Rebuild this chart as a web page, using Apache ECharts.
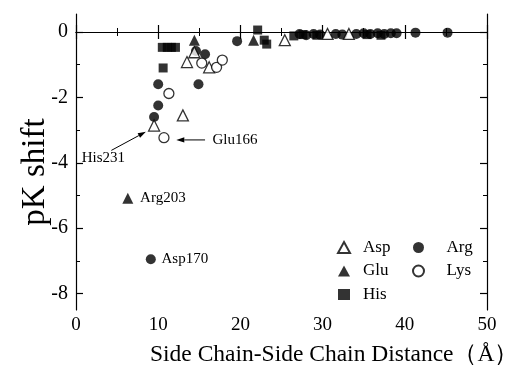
<!DOCTYPE html>
<html>
<head>
<meta charset="utf-8">
<script src="https://cdn.jsdelivr.net/npm/echarts@6/dist/echarts.min.js"></script>
<style>
  html, body { margin: 0; padding: 0; background: #fff; }
  #chart { width: 521px; height: 373px; }
</style>
</head>
<body>
<div id="chart"></div>
<script>
// values: [distance (Å), pK shift]
const aspData = [[9.5, -2.86], [13.0, -2.55], [13.5, -0.92], [14.4, -0.62], [16.2, -1.08], [25.4, -0.25], [30.6, -0.06], [33.2, -0.06]]
const gluData = [[6.3, -5.08], [14.4, -0.25], [21.6, -0.25]]
const hisData = [[10.5, -0.47], [11.1, -0.47], [11.6, -0.47], [12.1, -0.47], [10.6, -1.1], [22.1, 0.06], [22.9, -0.25], [23.2, -0.37], [26.5, -0.12], [27.6, -0.08], [29.3, -0.1], [35.4, -0.08], [37.1, -0.1]]
const argData = [[9.1, -6.95], [9.5, -2.6], [10.0, -2.25], [10.0, -1.6], [14.9, -1.6], [14.6, -0.58], [15.7, -0.68], [19.6, -0.28], [27.2, -0.06], [28.0, -0.1], [28.9, -0.06], [29.7, -0.08], [31.6, -0.06], [32.4, -0.08], [34.1, -0.06], [35.0, -0.04], [35.8, -0.06], [36.7, -0.04], [37.5, -0.06], [38.3, -0.04], [39.0, -0.04], [41.3, -0.02], [45.2, -0.02]]
const lysData = [[10.7, -3.23], [11.3, -1.88], [15.3, -0.95], [17.1, -1.08], [17.8, -0.86]]

const yMajor = [-8, -6, -4, -2, 0]
const yMinor = [-7, -5, -3, -1]

// annotations: text, where the text sits, arrow tail and head (data coords)
const noteTexts = ['His231', 'Glu166', 'Arg203', 'Asp170']
const noteAt = [[0.7, -3.85], [16.6, -3.3], [7.8, -5.08], [10.4, -6.95]]
const arrowFrom = [[4.3, -3.62], [15.7, -3.3]]
const arrowTo = [[8.5, -3.05], [12.2, -3.3]]

const serif = '"Liberation Serif", "DejaVu Serif", serif'
const chart = echarts.init(document.getElementById('chart'))

const openStyle = { color: '#fff', borderColor: '#000', borderWidth: 1.3 }
const fillStyle = { color: '#000', borderColor: '#000', borderWidth: 0 }

const xBase = {
  type: 'value', min: 0, max: 50, interval: 10,
  axisLine: { lineStyle: { color: '#000', width: 1.2 } },
  axisTick: { inside: true, length: 7, lineStyle: { color: '#000', width: 1.2 } },
  minorTick: { show: true, splitNumber: 2, length: 4, lineStyle: { color: '#000', width: 1 } },
  splitLine: { show: false },
}
const yBase = {
  type: 'value', min: -8.5, max: 0.55,
  axisLine: { show: true, lineStyle: { color: '#000', width: 1.2 } },
  splitLine: { show: false },
  axisLabel: { show: false },
}
const legendBase = {
  orient: 'vertical', top: 234, itemWidth: 12, itemHeight: 11, itemGap: 6.5,
  textStyle: { color: '#000', fontFamily: serif, fontSize: 17 },
}

const option = {
  animation: false,
  grid: { left: 76, right: 34, top: 14, bottom: 63 },
  xAxis: [
    { ...xBase, position: 'bottom',
      axisLabel: { color: '#000', fontFamily: serif, fontSize: 19, margin: 6 } },
    { ...xBase, position: 'top', axisLabel: { show: false } },
  ],
  yAxis: [
    { ...yBase, position: 'left',
      axisTick: { inside: true, length: 7, customValues: yMajor, lineStyle: { color: '#000', width: 1.2 } },
      axisLabel: { show: true, customValues: yMajor, color: '#000', fontFamily: serif, fontSize: 20, margin: 8 } },
    { ...yBase, position: 'left', axisLine: { show: false },
      axisTick: { inside: true, length: 4, customValues: yMinor, lineStyle: { color: '#000', width: 1 } } },
    { ...yBase, position: 'right',
      axisTick: { inside: true, length: 7, customValues: yMajor, lineStyle: { color: '#000', width: 1.2 } } },
    { ...yBase, position: 'right', axisLine: { show: false },
      axisTick: { inside: true, length: 4, customValues: yMinor, lineStyle: { color: '#000', width: 1 } } },
  ],
  legend: [
    { ...legendBase, data: ['Asp', 'Glu', 'His'], left: 332,
      textStyle: { ...legendBase.textStyle, padding: [0, 0, 0, 8] } },
    { ...legendBase, data: ['Arg', 'Lys'], left: 407,
      textStyle: { ...legendBase.textStyle, padding: [0, 0, 0, 17] } },
  ],
  series: [
    { name: 'Asp', type: 'scatter', data: aspData, symbol: 'triangle', symbolSize: 11, itemStyle: openStyle, z: 3 },
    { name: 'Glu', type: 'scatter', data: gluData, symbol: 'triangle', symbolSize: 11, itemStyle: fillStyle },
    { name: 'His', type: 'scatter', data: hisData, symbol: 'rect', symbolSize: 9, itemStyle: fillStyle },
    { name: 'Arg', type: 'scatter', data: argData, symbol: 'circle', symbolSize: 10, itemStyle: fillStyle },
    { name: 'Lys', type: 'scatter', data: lysData, symbol: 'circle', symbolSize: 10, itemStyle: openStyle, z: 3 },
  ],
}
chart.setOption(option)

// annotations and axis titles placed through the chart's own scales
const px = (p) => chart.convertToPixel({ xAxisIndex: 0, yAxisIndex: 0 }, p)
const arrow = (from, to) => {
  const a = px(from), b = px(to)
  const dx = b[0] - a[0], dy = b[1] - a[1], L = Math.hypot(dx, dy)
  const ux = dx / L, uy = dy / L, hl = 8, hw = 2.6
  const bx = b[0] - ux * hl, by = b[1] - uy * hl
  return [
    { type: 'line', shape: { x1: a[0], y1: a[1], x2: bx, y2: by }, style: { stroke: '#000', lineWidth: 1 } },
    { type: 'polygon', shape: { points: [b, [bx - uy * hw, by + ux * hw], [bx + uy * hw, by - ux * hw]] }, style: { fill: '#000' } },
  ]
}
const graphics = []
noteTexts.forEach((t, i) => {
  const p = px(noteAt[i])
  graphics.push({ type: 'text', x: p[0], y: p[1],
    style: { text: t, fill: '#000', font: '15px ' + serif, textAlign: 'left', textVerticalAlign: 'middle' } })
})
arrowFrom.forEach((f, i) => graphics.push(...arrow(f, arrowTo[i])))
graphics.push({ type: 'text', x: 150, y: 355,
  style: { text: 'Side Chain-Side Chain Distance（Å）', fill: '#000', font: '23.5px ' + serif, textAlign: 'left', textVerticalAlign: 'middle' } })
graphics.push({ type: 'text', x: 35, y: 172, rotation: Math.PI / 2,
  style: { text: 'pK shift', fill: '#000', font: '33px ' + serif, textAlign: 'center', textVerticalAlign: 'middle' } })
chart.setOption({ graphic: graphics })
</script>
</body>
</html>
